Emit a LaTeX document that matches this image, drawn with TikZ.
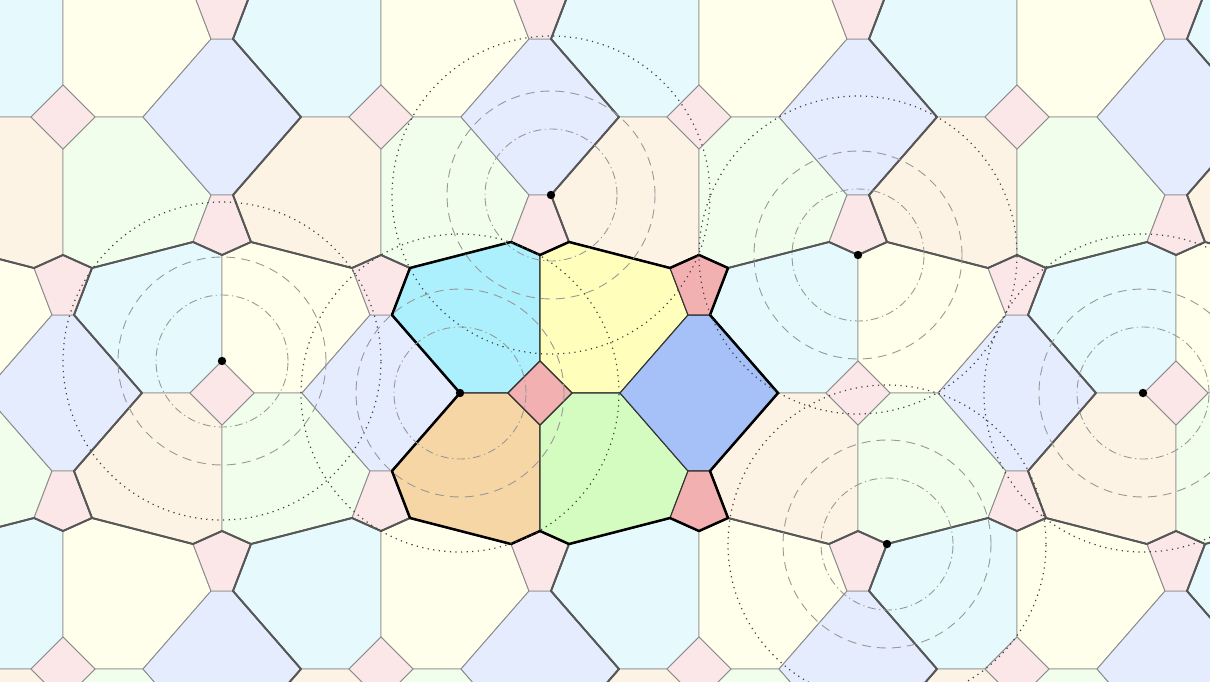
\documentclass[tikz,border=0pt]{standalone}
\definecolor{cyanC}{RGB}{171,240,252}
\definecolor{yellowC}{RGB}{255,255,187}
\definecolor{orangeC}{RGB}{247,214,165}
\definecolor{greenC}{RGB}{212,252,192}
\definecolor{blueC}{RGB}{166,193,248}
\definecolor{redC}{RGB}{242,176,176}
\tikzset{
  tileedge/.style={draw=black!45, line width=0.9pt, line join=round},
  bnd/.style={draw=black!66, line width=1.8pt, line join=round},
  cbnd/.style={draw=black, line width=2.5pt, line join=round},
  cedge/.style={draw=black!80, line width=1.1pt, line join=round},
  dotcirc/.style={draw=black!75, line width=1.2pt, dash pattern=on 1.2pt off 4.4pt},
  dashcirc/.style={draw=black!40, line width=0.9pt, dash pattern=on 9pt off 6pt},
  dashdotcirc/.style={draw=black!40, line width=0.9pt, dash pattern=on 8pt off 3.5pt on 1.2pt off 3.5pt},
}
\newcommand\pSq{(0,-32)--(32,0)--(0,32)--(-32,0)--cycle}
\newcommand\pTL{(-80,0)--(-148,-78)--(-130,-125)--(-29,-151)--(0,-138)--(0,-32)--(-32,0)--cycle}
\newcommand\pTR{(80,0)--(148,-78)--(130,-125)--(29,-151)--(0,-138)--(0,-32)--(32,0)--cycle}
\newcommand\pBL{(-80,0)--(-148,78)--(-130,125)--(-29,151)--(0,138)--(0,32)--(-32,0)--cycle}
\newcommand\pBR{(80,0)--(148,78)--(130,125)--(29,151)--(0,138)--(0,32)--(32,0)--cycle}
\newcommand\pHex{(80,0)--(148,-78)--(170,-78)--(238,0)--(170,78)--(148,78)--cycle}
\newcommand\pPa{(148,-78)--(170,-78)--(188,-125)--(159,-138)--(130,-125)--cycle}
\newcommand\pPb{(148,78)--(170,78)--(188,125)--(159,138)--(130,125)--cycle}
\newcommand\pBnd{(-80,0)--(-148,-78)--(-130,-125)--(-29,-151)--(0,-138)--(29,-151)--(130,-125)--(159,-138)--(188,-125)--(170,-78)--(238,0)--(170,78)--(188,125)--(159,138)--(130,125)--(29,151)--(0,138)--(-29,151)--(-130,125)--(-148,78)--cycle}
\begin{document}
\begin{tikzpicture}[x=1pt,y=-1pt]
\useasboundingbox (0,0) rectangle (1210,682);
\clip (0,0) rectangle (1210,682);
% faded tiling
\foreach \i in {-4,...,4}{\foreach \j in {-2,...,2}{
  \begin{scope}[shift={({540+318*\i+159*\j},{393+276*\j})}]
    \filldraw[fill=cyanC!30, tileedge] \pTL;
    \filldraw[fill=yellowC!30, tileedge] \pTR;
    \filldraw[fill=orangeC!30, tileedge] \pBL;
    \filldraw[fill=greenC!30, tileedge] \pBR;
    \filldraw[fill=blueC!30, tileedge] \pHex;
    \filldraw[fill=redC!30, tileedge] \pSq;
    \filldraw[fill=redC!30, tileedge] \pPa;
    \filldraw[fill=redC!30, tileedge] \pPb;
  \end{scope}
}}
% patch boundaries
\foreach \i in {-4,...,4}{\foreach \j in {-2,...,2}{
  \begin{scope}[shift={({540+318*\i+159*\j},{393+276*\j})}]
    \draw[bnd] \pBnd;
  \end{scope}
}}
% central patch
\begin{scope}[shift={(540,393)}]
  \filldraw[fill=cyanC, cedge] \pTL;
  \filldraw[fill=yellowC, cedge] \pTR;
  \filldraw[fill=orangeC, cedge] \pBL;
  \filldraw[fill=greenC, cedge] \pBR;
  \filldraw[fill=blueC, cedge] \pHex;
  \filldraw[fill=redC, cedge] \pSq;
  \filldraw[fill=redC, cedge] \pPa;
  \filldraw[fill=redC, cedge] \pPb;
  \draw[cbnd] \pBnd;
\end{scope}
% circle centres
\coordinate (c1) at (551,195);
\coordinate (c2) at (222,361);
\coordinate (c3) at (460,393);
\coordinate (c4) at (858,255);
\coordinate (c5) at (1143,393);
\coordinate (c6) at (887,544);
\foreach \c in {c1,c2,c3,c4,c5,c6}{
  \draw[dotcirc] (\c) circle (159pt);
  \draw[dashcirc] (\c) circle (104pt);
  \draw[dashdotcirc] (\c) circle (66pt);
  \fill (\c) circle (4.2pt);
}
\end{tikzpicture}
\end{document}
